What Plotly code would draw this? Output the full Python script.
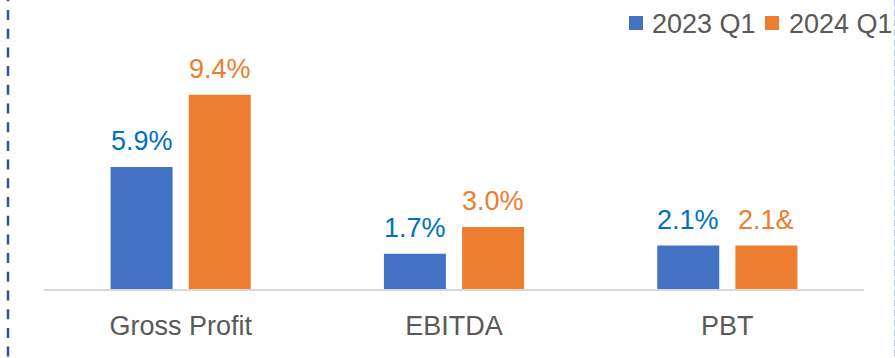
import plotly.graph_objects as go

# Margin change by metric, first quarter of each year (%)
categories = ["Gross Profit", "EBITDA", "PBT"]
series_names = ["2023 Q1", "2024 Q1"]
values_2023 = [5.9, 1.7, 2.1]
values_2024 = [9.4, 3.0, 2.1]
labels_2023 = ["5.9%", "1.7%", "2.1%"]
labels_2024 = ["9.4%", "3.0%", "2.1&"]

BAR_COLORS = ["#4472C4", "#ED7D31"]
LABEL_COLORS = ["#0070C0", "#ED7D31"]
TEXT_GREY = "#595959"
FONT = "Liberation Sans, Arial, sans-serif"

W, H = 895, 358
ML, MR, MT, MB = 44, 31, 41, 69
PW, PH = W - ML - MR, H - MT - MB


def px_x(px):
    """Page pixel column -> paper x."""
    return (px - ML) / PW


def px_y(py):
    """Page pixel row -> paper y."""
    return (H - MB - py) / PH


fig = go.Figure()
for name, vals, color in zip(series_names, [values_2023, values_2024], BAR_COLORS):
    fig.add_trace(go.Bar(
        name=name, x=categories, y=vals,
        marker=dict(color=color, line=dict(width=0)),
        showlegend=False, hoverinfo="skip",
    ))

# value labels above each bar
slot_shift = 39
annotations = []
for k, (vals, labs) in enumerate([(values_2023, labels_2023), (values_2024, labels_2024)]):
    shift = -slot_shift if k == 0 else slot_shift
    for cat, v, lab in zip(categories, vals, labs):
        annotations.append(dict(
            x=cat, y=v, xref="x", yref="y", text=lab, showarrow=False,
            xshift=shift, yshift=9, yanchor="bottom", xanchor="center",
            font=dict(family=FONT, size=27, color=LABEL_COLORS[k]),
        ))

# legend: coloured square + series name
shapes = []
legend_items = [(629, 650), (765, 787)]
for (sq_x, tx_x), name, color in zip(legend_items, series_names, BAR_COLORS):
    shapes.append(dict(
        type="rect", xref="paper", yref="paper",
        x0=px_x(sq_x), x1=px_x(sq_x + 14), y0=px_y(30), y1=px_y(16),
        fillcolor=color, line=dict(width=0),
    ))
    annotations.append(dict(
        x=px_x(tx_x), y=px_y(24), xref="paper", yref="paper", text=name,
        showarrow=False, xanchor="left", yanchor="middle",
        font=dict(family=FONT, size=27, color=TEXT_GREY),
    ))

# dashed frame edges
shapes.append(dict(
    type="line", xref="paper", yref="paper",
    x0=px_x(8), x1=px_x(8), y0=px_y(-8.7), y1=px_y(H + 10),
    line=dict(color="#2F5597", width=2.5, dash="10px,8.7px"),
))
shapes.append(dict(
    type="line", xref="paper", yref="paper",
    x0=px_x(894.5), x1=px_x(894.5), y0=px_y(0), y1=px_y(H),
    line=dict(color="#B4C7E7", width=1, dash="6px,4px"),
))

fig.update_layout(
    width=W, height=H,
    margin=dict(l=ML, r=MR, t=MT, b=MB, pad=0),
    paper_bgcolor="white", plot_bgcolor="white",
    barmode="group", bargap=0.428, bargroupgap=0.207,
    shapes=shapes, annotations=annotations,
    font=dict(family=FONT, color=TEXT_GREY),
    xaxis=dict(
        type="category", range=[-0.5, 2.5], showgrid=False, zeroline=False,
        showline=True, linecolor="#D9D9D9", linewidth=2, ticks="",
        ticklabelstandoff=12,
        tickfont=dict(family=FONT, size=27, color=TEXT_GREY),
        fixedrange=True,
    ),
    yaxis=dict(
        range=[0, 12], visible=False, showgrid=False, zeroline=False,
        fixedrange=True,
    ),
)

fig.write_html("out.html", config={"displayModeBar": False})
